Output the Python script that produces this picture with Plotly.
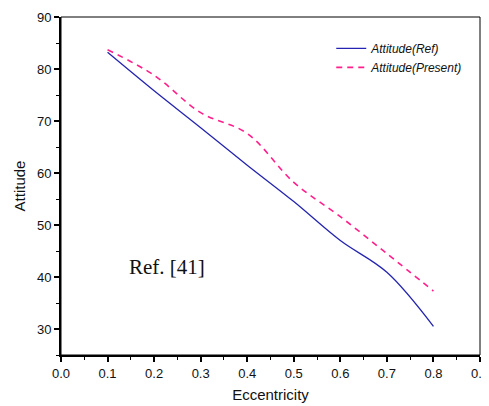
import plotly.graph_objects as go

ecc = [0.1, 0.2, 0.3, 0.4, 0.5, 0.6, 0.7, 0.8]
att_ref = [83.2, 75.8, 68.7, 61.5, 54.5, 47.0, 40.9, 30.5]
att_present = [83.7, 78.8, 71.6, 67.6, 58.2, 51.6, 44.5, 37.3]

x_ticks = [0.0, 0.1, 0.2, 0.3, 0.4, 0.5, 0.6, 0.7, 0.8, 0.9]
y_ticks = [30, 40, 50, 60, 70, 80, 90]

fig = go.Figure()
fig.add_trace(go.Scatter(x=ecc, y=att_ref, mode="lines", name="<i>Attitude(Ref)</i>",
                         line=dict(color="#2424b0", width=1.3, shape="spline", smoothing=1.0)))
fig.add_trace(go.Scatter(x=ecc, y=att_present, mode="lines", name="<i>Attitude(Present)</i>",
                         line=dict(color="#ff1f8a", width=1.6, dash="6px,5px", shape="spline", smoothing=1.0)))

axis_font = dict(family="Liberation Sans, Arial", size=13, color="#111")
title_font = dict(family="Liberation Sans, Arial", size=15, color="#111")
fig.update_xaxes(range=[0, 0.9], tickvals=x_ticks, ticktext=[f"{v:.1f}" for v in x_ticks],
                 ticks="outside", ticklen=5, tickwidth=1.5, tickcolor="black",
                 minor=dict(dtick=0.05, ticks="outside", ticklen=3, tickwidth=1, tickcolor="black"),
                 showline=True, linecolor="black", linewidth=2, showgrid=False, zeroline=False,
                 tickfont=axis_font, automargin=False, ticklabeloverflow="allow",
                 title=dict(text="Eccentricity", font=title_font, standoff=10))
fig.update_yaxes(range=[25, 90], tickvals=y_ticks,
                 ticks="outside", ticklen=5, tickwidth=1.5, tickcolor="black",
                 minor=dict(dtick=5, ticks="outside", ticklen=3, tickwidth=1, tickcolor="black"),
                 showline=True, linecolor="black", linewidth=2, showgrid=False, zeroline=False,
                 tickfont=axis_font, automargin=False, ticklabeloverflow="allow",
                 title=dict(text="Attitude", font=title_font, standoff=8))

fig.add_shape(type="rect", xref="paper", yref="paper", x0=0, y0=0, x1=1, y1=1,
              line=dict(color="black", width=1))

fig.add_annotation(x=0.228, y=42.0, xref="x", yref="y", text="Ref. [41]", showarrow=False,
                   font=dict(family="Liberation Serif, Times New Roman", size=21, color="#111"))

fig.update_layout(
    width=481, height=398,
    margin=dict(l=53, r=9, t=9, b=51, autoexpand=False),
    paper_bgcolor="white", plot_bgcolor="white",
    legend=dict(x=0.645, y=0.95, xanchor="left", yanchor="top", bgcolor="rgba(0,0,0,0)",
                font=dict(family="Liberation Sans, Arial", size=12, color="#111"),
                itemwidth=30, tracegroupgap=0),
    showlegend=True,
)

fig.write_html("out.html")
